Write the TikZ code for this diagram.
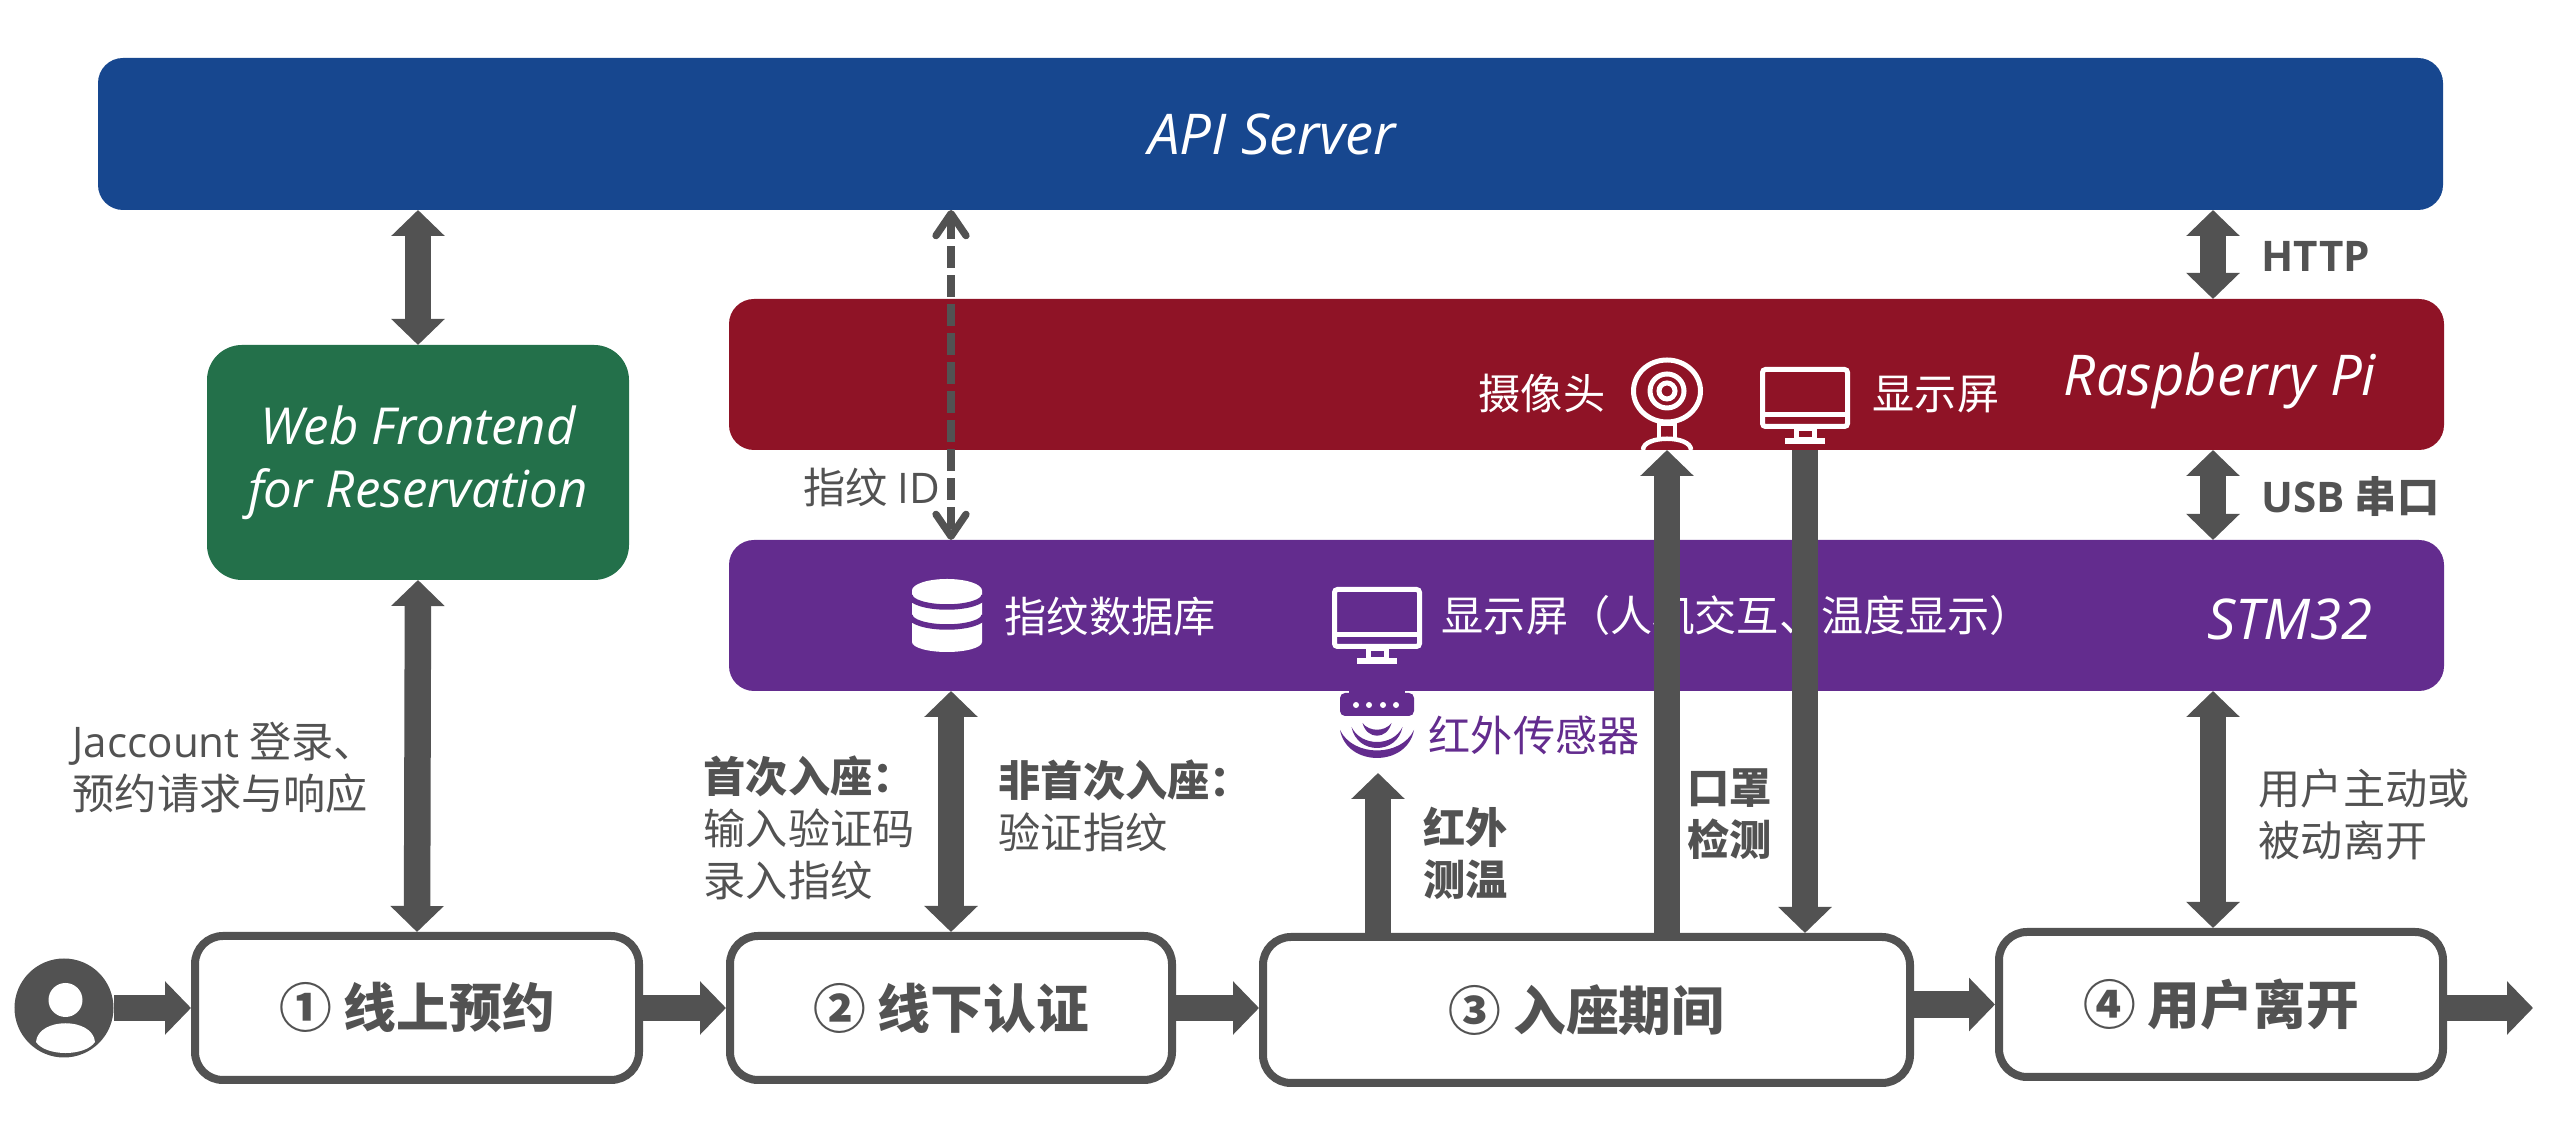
\documentclass[tikz,border=0pt]{standalone}
\usepackage{fontspec}
\setmainfont{Noto Sans CJK SC}
\newfontfamily\latinfont{Open Sans}
\usetikzlibrary{arrows.meta}
\definecolor{apiblue}{HTML}{17478F}
\definecolor{rpired}{HTML}{8F1326}
\definecolor{stmpurple}{HTML}{632C8E}
\definecolor{webgreen}{HTML}{23704A}
\definecolor{flowgray}{HTML}{525252}
\tikzset{
	bar/.style={fill=#1, rounded corners=0.25cm, outer sep=0pt, inner sep=0pt},
	titletext/.style={text=white, font=\fontsize{16}{19}\selectfont\latinfont\itshape, inner sep=0pt, anchor=base},
	stepbox/.style={draw=flowgray, fill=white, line width=0.08cm, rounded corners=0.28cm, text=flowgray, font=\fontsize{15}{18}\selectfont\bfseries},
	note/.style={text=flowgray, font=\fontsize{12}{14.8}\selectfont, inner sep=0pt, anchor=west, align=left},
	whitenote/.style={text=white, font=\fontsize{12}{14.8}\selectfont, inner sep=0pt, anchor=west},
	flow/.style={draw=flowgray, line width=0.265cm, -{Triangle[length=0.26cm,width=0.52cm]}},
	flowboth/.style={draw=flowgray, line width=0.265cm, {Triangle[length=0.26cm,width=0.52cm]}-{Triangle[length=0.26cm,width=0.52cm]}},
	idlink/.style={draw=flowgray, line width=0.073cm, dash pattern=on 0.22cm off 0.07cm, {Straight Barb[round,length=0.22cm,width=0.3cm]}-{Straight Barb[round,length=0.22cm,width=0.3cm]}},
	pics/monitor/.style={code={
		\draw[white, line width=0.05cm, rounded corners=0.03cm] (-0.425,-0.285) rectangle (0.425,0.285);
		\draw[white, line width=0.05cm] (-0.425,-0.17) -- (0.425,-0.17);
		\draw[white, line width=0.05cm] (-0.09,-0.31) rectangle (0.09,-0.42);
		\fill[white] (-0.2,-0.4) rectangle (0.2,-0.46);
	}},
	pics/webcam/.style={code={
		\draw[white, line width=0.05cm] (0,0) ellipse [x radius=0.335, y radius=0.31];
		\draw[white, line width=0.05cm] (0,0) circle (0.17);
		\draw[white, line width=0.05cm] (0,0) circle (0.08);
		\draw[white, line width=0.04cm] (-0.08,-0.33) rectangle (0.08,-0.48);
		\draw[white, line width=0.045cm] (-0.24,-0.59) .. controls (-0.24,-0.44) and (0.24,-0.44) .. (0.24,-0.59);
	}},
	pics/database/.style={code={
		\fill[white] (-0.35,0.25) arc [start angle=180, end angle=0, x radius=0.35, y radius=0.115] -- (0.35,-0.265) arc [start angle=0, end angle=-180, x radius=0.35, y radius=0.1] -- cycle;
		\draw[stmpurple, line width=0.055cm] (-0.37,0.2) arc [start angle=180, end angle=360, x radius=0.37, y radius=0.115];
		\draw[stmpurple, line width=0.055cm] (-0.37,0) arc [start angle=180, end angle=360, x radius=0.37, y radius=0.115];
	}},
	pics/irsensor/.style={code={
		\fill[stmpurple, rounded corners=0.05cm] (-0.37,0.14) rectangle (0.37,0.37);
		\fill[stmpurple] (-0.28,0.3) rectangle (0.28,0.39);
		\fill[white] (-0.21,0.25) circle (0.03);
		\fill[white] (-0.08,0.25) circle (0.03);
		\fill[white] (0.06,0.25) circle (0.03);
		\fill[white] (0.19,0.25) circle (0.03);
		\fill[stmpurple] (-0.37,0) .. controls (-0.3,-0.373) and (0.3,-0.373) .. (0.37,0) .. controls (0.24,-0.273) and (-0.24,-0.273) .. cycle;
		\fill[stmpurple] (-0.255,0.03) .. controls (-0.2,-0.25) and (0.2,-0.25) .. (0.255,0.03) .. controls (0.16,-0.17) and (-0.16,-0.17) .. cycle;
		\fill[stmpurple] (-0.145,0.07) .. controls (-0.1,-0.1) and (0.1,-0.1) .. (0.145,0.07) .. controls (0.08,-0.02) and (-0.08,-0.02) .. cycle;
	}}
}
\begin{document}
\begin{tikzpicture}
	\useasboundingbox (0,0) rectangle (25.6,11.29);

	\node[bar=apiblue, minimum width=23.45cm, minimum height=1.52cm] (api) at (12.705,9.95) {};
	\node[bar=rpired, minimum width=17.15cm, minimum height=1.51cm] (rpi) at (15.865,7.545) {};
	\node[bar=stmpurple, minimum width=17.15cm, minimum height=1.51cm] (stm) at (15.865,5.135) {};
	\node[bar=webgreen, rounded corners=0.35cm, minimum width=4.22cm, minimum height=2.35cm, text=white, align=center, font=\fontsize{14.5}{18}\selectfont\latinfont\itshape] (web) at (4.18,6.665) {Web Frontend\\for Reservation};

	\node[titletext] (apititle) at (12.72,9.74) {API Server};
	\node[titletext] (rpititle) at (22.2,7.33) {Raspberry Pi};
	\node[titletext] (stmtitle) at (22.9,4.89) {STM32};

	\node[stepbox, minimum width=4.44cm, minimum height=1.44cm] (step1) at (4.17,1.21) {① 线上预约};
	\node[stepbox, minimum width=4.42cm, minimum height=1.44cm] (step2) at (9.51,1.21) {② 线下认证};
	\node[stepbox, minimum width=6.47cm, minimum height=1.46cm] (step3) at (15.865,1.19) {③ 入座期间};
	\node[stepbox, minimum width=4.44cm, minimum height=1.45cm] (step4) at (22.21,1.245) {④ 用户离开};

	\node[circle, fill=flowgray, minimum size=0.99cm, inner sep=0pt] (user) at (0.64,1.21) {};
	\fill[white] (0.655,1.29) circle (0.17);
	\fill[white] (0.36,0.87) .. controls (0.38,1.12) and (0.93,1.12) .. (0.95,0.87) .. controls (0.85,0.723) and (0.46,0.723) .. cycle;

	\pic at (16.67,7.38) {webcam};
	\pic at (18.05,7.31) {monitor};
	\pic at (13.77,5.11) {monitor};
	\pic at (9.47,5.135) {database};
	\pic at (13.77,3.99) {irsensor};

	\node[whitenote] (camtext) at (14.78,7.35) {摄像头};
	\node[whitenote] (rpiscreen) at (18.72,7.34) {显示屏};
	\node[whitenote] (fpdb) at (10.04,5.12) {指纹数据库};
	\node[whitenote] (stmscreen) at (14.41,5.14) {显示屏（人机交互、温度显示）};
	\node[note, text=stmpurple] (irtext) at (14.28,3.94) {红外传感器};

	\node[note] (fpid) at (8.03,6.42) {指纹 {\latinfont ID}};
	\node[note, font=\fontsize{12}{14.8}\selectfont\bfseries] (http) at (22.61,8.73) {\latinfont HTTP};
	\node[note, font=\fontsize{12}{14.8}\selectfont\bfseries] (usb) at (22.61,6.32) {{\latinfont USB} 串口};
	\node[note] (login) at (0.72,3.615) {{\latinfont Jaccount} 登录、\\预约请求与响应};
	\node[note] (first) at (7.03,3.01) {\textbf{首次入座：}\\输入验证码\\录入指纹};
	\node[note] (again) at (9.98,3.23) {\textbf{非首次入座：}\\验证指纹};
	\node[note, font=\fontsize{12}{14.8}\selectfont\bfseries] (irtemp) at (14.23,2.76) {红外\\测温};
	\node[note, font=\fontsize{12}{14.8}\selectfont\bfseries] (mask) at (16.87,3.15) {口罩\\检测};
	\node[note] (leave) at (22.58,3.15) {用户主动或\\被动离开};

	\coordinate (fpx) at (9.51,0);
	\coordinate (irx) at (13.78,0);
	\coordinate (camx) at (16.67,0);
	\coordinate (dispx) at (18.05,0);
	\coordinate (portx) at (22.13,0);
	\coordinate (irtip) at (13.78,3.56);
	\coordinate (exit) at (25.33,1.21);

	\draw[flowboth] (web.north |- api.south) -- (web.north);
	\draw[flowboth] (web.south) -- (step1.north);
	\draw[idlink] (fpx |- api.south) -- (fpx |- stm.north);
	\draw[flowboth] (fpx |- stm.south) -- (step2.north);
	\draw[flow] (irx |- step3.north) -- (irtip);
	\draw[flow] (camx |- step3.north) -- (camx |- rpi.south);
	\draw[flow] (dispx |- rpi.south) -- (dispx |- step3.north);
	\draw[flowboth] (portx |- api.south) -- (portx |- rpi.north);
	\draw[flowboth] (portx |- rpi.south) -- (portx |- stm.north);
	\draw[flowboth] (portx |- stm.south) -- (portx |- step4.north);

	\draw[flow] (user) -- (step1);
	\draw[flow] (step1) -- (step2);
	\draw[flow] (step2.east) -- (step2.east -| step3.west);
	\draw[flow] (step4.west -| step3.east) -- (step4.west);
	\draw[flow] (exit -| step4.east) -- (exit);
\end{tikzpicture}
\end{document}
